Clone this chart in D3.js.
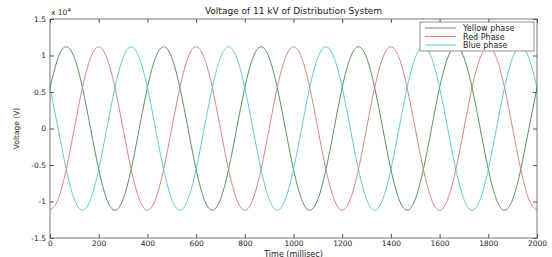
<!DOCTYPE html>
<meta charset="utf-8">
<script src="https://d3js.org/d3.v7.min.js"></script>
<style>
  body { margin: 0; background: #fff; }
  text { font-family: "DejaVu Sans", Arial, sans-serif; }
</style>
<div id="graph"></div>
<script>
  // time samples (ms)
  var times = [0,33.3,66.7,100,133.3,166.7,200,233.3,266.7,300,333.3,366.7,
    400,433.3,466.7,500,533.3,566.7,600,633.3,666.7,700,733.3,766.7,
    800,833.3,866.7,900,933.3,966.7,1000,1033.3,1066.7,1100,1133.3,1166.7,
    1200,1233.3,1266.7,1300,1333.3,1366.7,1400,1433.3,1466.7,1500,1533.3,1566.7,
    1600,1633.3,1666.7,1700,1733.3,1766.7,1800,1833.3,1866.7,1900,1933.3,1966.7,2000];

  // phase voltages (V)
  var yellowPhase = [5600,9700,11200,9700,5600,0,-5600,-9700,-11200,-9700,-5600,0,
    5600,9700,11200,9700,5600,0,-5600,-9700,-11200,-9700,-5600,0,
    5600,9700,11200,9700,5600,0,-5600,-9700,-11200,-9700,-5600,0,
    5600,9700,11200,9700,5600,0,-5600,-9700,-11200,-9700,-5600,0,
    5600,9700,11200,9700,5600,0,-5600,-9700,-11200,-9700,-5600,0,5600];
  var redPhase = [-11200,-9700,-5600,0,5600,9700,11200,9700,5600,0,-5600,-9700,
    -11200,-9700,-5600,0,5600,9700,11200,9700,5600,0,-5600,-9700,
    -11200,-9700,-5600,0,5600,9700,11200,9700,5600,0,-5600,-9700,
    -11200,-9700,-5600,0,5600,9700,11200,9700,5600,0,-5600,-9700,
    -11200,-9700,-5600,0,5600,9700,11200,9700,5600,0,-5600,-9700,-11200];
  var bluePhase = [5600,0,-5600,-9700,-11200,-9700,-5600,0,5600,9700,11200,9700,
    5600,0,-5600,-9700,-11200,-9700,-5600,0,5600,9700,11200,9700,
    5600,0,-5600,-9700,-11200,-9700,-5600,0,5600,9700,11200,9700,
    5600,0,-5600,-9700,-11200,-9700,-5600,0,5600,9700,11200,9700,
    5600,0,-5600,-9700,-11200,-9700,-5600,0,5600,9700,11200,9700,5600];

  var seriesNames = ["Yellow phase", "Red Phase", "Blue phase"];
  var seriesColors = ["#3f8a46", "#e0707c", "#4cc8cc"];
  var xTicks = [0,200,400,600,800,1000,1200,1400,1600,1800,2000];
  var yTicks = [-15000,-10000,-5000,0,5000,10000,15000];

  var W = 552, H = 257;
  var margin = { top: 19, right: 15, bottom: 19, left: 50 },
    width = W - margin.left - margin.right,
    height = H - margin.top - margin.bottom;

  var svgRoot = d3.select("#graph").append("svg")
    .attr("width", W).attr("height", H);
  var svg = svgRoot.append("g")
    .attr("transform", "translate(" + margin.left + "," + margin.top + ")");

  var x = d3.scaleLinear().domain([0, 2000]).range([0, width]);
  var y = d3.scaleLinear().domain([-15000, 15000]).range([height, 0]);

  // curves
  var allSeries = [yellowPhase, redPhase, bluePhase];
  var line = d3.line()
    .x(function (d, i) { return x(times[i]); })
    .y(function (d) { return y(d); })
    .curve(d3.curveNatural);
  svg.selectAll(".phase")
    .data(allSeries)
    .enter().append("path")
    .attr("class", "phase")
    .attr("d", line)
    .attr("fill", "none")
    .attr("stroke", function (d, i) { return seriesColors[i]; })
    .attr("stroke-width", 0.9);

  // axes, MATLAB-style box with inward ticks
  function styleAxis(g) {
    g.select(".domain").remove();
    g.selectAll(".tick line").attr("stroke", "#555");
    g.selectAll("text").attr("font-size", 7.5).attr("fill", "#222");
  }
  svg.append("g")
    .attr("transform", "translate(0," + height + ")")
    .call(d3.axisBottom(x).tickValues(xTicks).tickSize(-4).tickPadding(3).tickFormat(d3.format("d")))
    .call(styleAxis);
  svg.append("g")
    .call(d3.axisTop(x).tickValues(xTicks).tickSize(-4).tickFormat(""))
    .call(styleAxis);
  svg.append("g")
    .call(d3.axisLeft(y).tickValues(yTicks).tickSize(-4).tickPadding(4)
      .tickFormat(function (d) { return d / 1e4; }))
    .call(styleAxis);
  svg.append("g")
    .attr("transform", "translate(" + width + ",0)")
    .call(d3.axisRight(y).tickValues(yTicks).tickSize(-4).tickFormat(""))
    .call(styleAxis);
  svg.append("rect")
    .attr("width", width).attr("height", height)
    .attr("fill", "none").attr("stroke", "#555").attr("stroke-width", 0.8);

  // exponent
  var expo = svg.append("text").attr("x", 1).attr("y", -4)
    .attr("font-size", 7.5).attr("fill", "#222").text("x 10");
  expo.append("tspan").attr("dy", -3).attr("font-size", 5.5).text("4");

  // title and labels
  svg.append("text")
    .attr("x", width / 2).attr("y", -5)
    .attr("text-anchor", "middle").attr("font-size", 9).attr("fill", "#222")
    .text("Voltage of 11 kV of Distribution System");
  svg.append("text")
    .attr("x", width / 2).attr("y", height + 18.5)
    .attr("text-anchor", "middle").attr("font-size", 8).attr("fill", "#222")
    .text("Time (millisec)");
  svg.append("text")
    .attr("transform", "translate(-31," + (height / 2) + ") rotate(-90)")
    .attr("text-anchor", "middle").attr("font-size", 7.5).attr("fill", "#222")
    .text("Voltage (V)");

  // legend
  var lg = svg.append("g").attr("transform", "translate(" + (width - 117) + ",3)");
  lg.append("rect").attr("width", 114).attr("height", 29)
    .attr("fill", "#fff").attr("stroke", "#666").attr("stroke-width", 0.7);
  seriesNames.forEach(function (name, i) {
    var ry = 6 + i * 8.5;
    lg.append("line").attr("x1", 5).attr("x2", 36).attr("y1", ry).attr("y2", ry)
      .attr("stroke", seriesColors[i]).attr("stroke-width", 0.9);
    lg.append("text").attr("x", 43).attr("y", ry + 3)
      .attr("font-size", 8).attr("fill", "#222").text(name);
  });
</script>
